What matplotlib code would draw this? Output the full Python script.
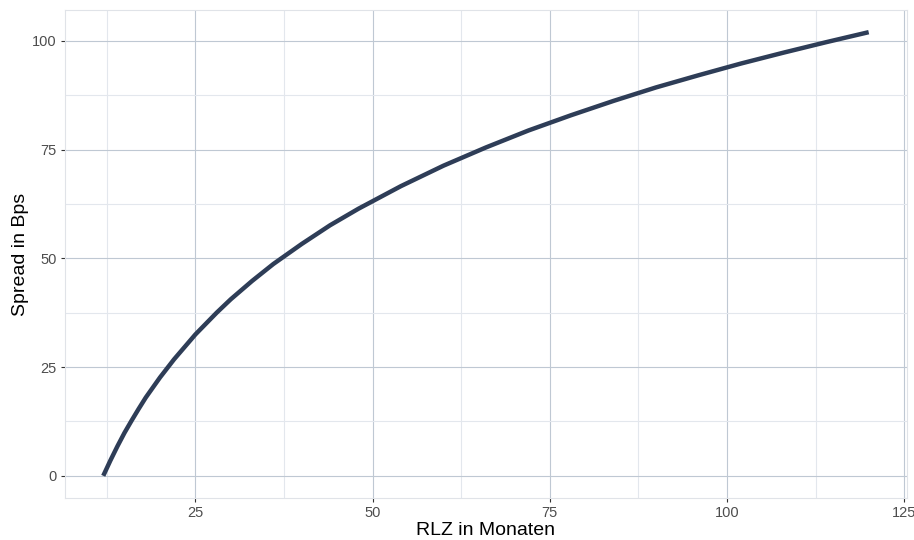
import matplotlib
matplotlib.use("Agg")
import matplotlib.pyplot as plt
from matplotlib.ticker import MultipleLocator

plt.rcParams["font.family"] = ["Liberation Sans", "DejaVu Sans"]

# values
rlz = [12, 13, 14, 15, 16, 17, 18, 20, 22, 25, 28, 30, 33, 36, 40, 44, 48, 54,
       60, 66, 72, 78, 84, 90, 96, 102, 108, 114, 120]
spread = [0, 3.5, 6.8, 9.9, 12.7, 15.4, 18.0, 22.6, 26.8, 32.5, 37.5, 40.6,
          44.8, 48.7, 53.3, 57.6, 61.4, 66.6, 71.3, 75.5, 79.4, 82.9, 86.2,
          89.3, 92.1, 94.8, 97.3, 99.7, 102.0]

major_col = "#bfc8d3"
minor_col = "#e3e7ed"
text_col = "#4d4d4d"

fig = plt.figure(figsize=(9.14, 5.4), dpi=100)
ax = fig.add_axes([0.0711, 0.0778, 0.9212, 0.9037])

ax.plot(rlz, spread, color="#2e3d57", linewidth=3.2, solid_capstyle="butt",
        solid_joinstyle="round", zorder=3)

xpad = (max(rlz) - min(rlz)) * 0.05
ypad = (max(spread) - min(spread)) * 0.05
ax.set_xlim(min(rlz) - xpad, max(rlz) + xpad)
ax.set_ylim(min(spread) - ypad, max(spread) + ypad)

ax.xaxis.set_major_locator(MultipleLocator(25))
ax.xaxis.set_minor_locator(MultipleLocator(12.5))
ax.yaxis.set_major_locator(MultipleLocator(25))
ax.yaxis.set_minor_locator(MultipleLocator(12.5))

ax.grid(which="major", color=major_col, linewidth=0.8, zorder=0)
ax.grid(which="minor", color=minor_col, linewidth=0.8, zorder=0)
ax.set_axisbelow(True)

for s in ax.spines.values():
    s.set_color("#e0e3e8")
    s.set_linewidth(0.8)

ax.tick_params(which="major", length=3, width=0.8, color="#333333",
               labelsize=10.5, labelcolor=text_col, pad=3)
ax.tick_params(which="minor", length=0)

ax.set_xlabel("RLZ in Monaten", fontsize=14, color="black", labelpad=1)
ax.set_ylabel("Spread in Bps", fontsize=14, color="black", labelpad=2)

plt.savefig("out.png", dpi=100)
